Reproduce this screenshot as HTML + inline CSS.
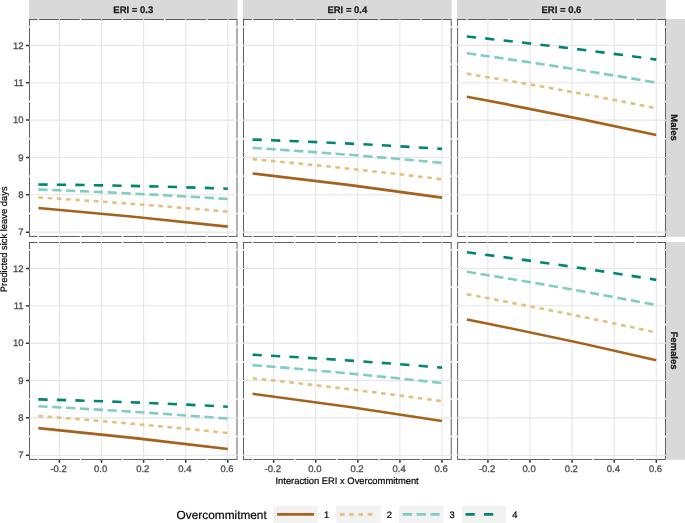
<!DOCTYPE html>
<html><head><meta charset="utf-8"><title>Predicted sick leave days</title>
<style>html,body{margin:0;padding:0;background:#fff}svg{display:block;will-change:transform}text{text-rendering:geometricPrecision;paint-order:stroke;stroke-linejoin:round;font-family:"Liberation Sans",sans-serif}</style></head><body>
<svg width="685" height="523" viewBox="0 0 685 523">
<rect width="685" height="523" fill="#fff"/>
<rect x="29.00" y="0" width="208.50" height="19.1" fill="#d9d9d9"/>
<text x="133.30" y="13.15" font-size="9.5" font-weight="bold" text-anchor="middle" fill="#1a1a1a" stroke="#1a1a1a" stroke-width="0.25">ERI = 0.3</text>
<rect x="243.05" y="0" width="208.65" height="19.1" fill="#d9d9d9"/>
<text x="347.35" y="13.15" font-size="9.5" font-weight="bold" text-anchor="middle" fill="#1a1a1a" stroke="#1a1a1a" stroke-width="0.25">ERI = 0.4</text>
<rect x="457.15" y="0" width="208.75" height="19.1" fill="#d9d9d9"/>
<text x="561.45" y="13.15" font-size="9.5" font-weight="bold" text-anchor="middle" fill="#1a1a1a" stroke="#1a1a1a" stroke-width="0.25">ERI = 0.6</text>
<rect x="665.8" y="19.0" width="19.4" height="217.80" fill="#d9d9d9"/>
<text transform="translate(671.35,127.55) rotate(90)" font-size="9.5" font-weight="bold" text-anchor="middle" fill="#1a1a1a" stroke="#1a1a1a" stroke-width="0.25">Males</text>
<rect x="665.8" y="242.0" width="19.4" height="217.80" fill="#d9d9d9"/>
<text transform="translate(671.35,350.55) rotate(90)" font-size="9.5" font-weight="bold" text-anchor="middle" fill="#1a1a1a" stroke="#1a1a1a" stroke-width="0.25">Females</text>
<rect x="29.50" y="19.5" width="207.50" height="216.90" fill="#fff" stroke="#444" stroke-width="0.85"/>
<path d="M38.35 18.8V237.1M80.45 18.8V237.1M122.55 18.8V237.1M164.65 18.8V237.1M206.75 18.8V237.1M28.80 213.48H237.70M28.80 176.12H237.70M28.80 138.78H237.70M28.80 101.43H237.70M28.80 64.08H237.70M28.80 26.72H237.70" stroke="#fff" stroke-width="1.4" fill="none"/>
<path d="M59.40 18.9V237.0M101.50 18.9V237.0M143.60 18.9V237.0M185.70 18.9V237.0M227.80 18.9V237.0M28.90 232.15H237.60M28.90 194.80H237.60M28.90 157.45H237.60M28.90 120.10H237.60M28.90 82.75H237.60M28.90 45.40H237.60" stroke="#e5e5e5" stroke-width="1.1" fill="none"/>
<path d="M38.35 207.96Q133.08 216.00 227.80 226.65" fill="none" stroke="#a6611a" stroke-width="2.6"/>
<path d="M38.35 197.45Q133.08 203.27 227.80 211.70" fill="none" stroke="#dfc27d" stroke-width="2.6" stroke-dasharray="4.624 4.624"/>
<path d="M38.35 189.50Q133.08 192.95 227.80 199.00" fill="none" stroke="#80cdc1" stroke-width="2.6" stroke-dasharray="9.248 4.624"/>
<path d="M38.35 184.50Q133.08 185.30 227.80 188.70" fill="none" stroke="#018571" stroke-width="2.6" stroke-dasharray="9.248 9.248"/>
<rect x="243.55" y="19.5" width="207.65" height="216.90" fill="#fff" stroke="#444" stroke-width="0.85"/>
<path d="M252.55 18.8V237.1M294.65 18.8V237.1M336.75 18.8V237.1M378.85 18.8V237.1M420.95 18.8V237.1M242.85 213.48H451.90M242.85 176.12H451.90M242.85 138.78H451.90M242.85 101.43H451.90M242.85 64.08H451.90M242.85 26.72H451.90" stroke="#fff" stroke-width="1.4" fill="none"/>
<path d="M273.60 18.9V237.0M315.70 18.9V237.0M357.80 18.9V237.0M399.90 18.9V237.0M442.00 18.9V237.0M242.95 232.15H451.80M242.95 194.80H451.80M242.95 157.45H451.80M242.95 120.10H451.80M242.95 82.75H451.80M242.95 45.40H451.80" stroke="#e5e5e5" stroke-width="1.1" fill="none"/>
<path d="M252.55 173.45Q347.27 184.02 442.00 197.60" fill="none" stroke="#a6611a" stroke-width="2.6"/>
<path d="M252.55 159.20Q347.27 167.75 442.00 179.30" fill="none" stroke="#dfc27d" stroke-width="2.6" stroke-dasharray="4.624 4.624"/>
<path d="M252.55 147.90Q347.27 153.90 442.00 162.90" fill="none" stroke="#80cdc1" stroke-width="2.6" stroke-dasharray="9.248 4.624"/>
<path d="M252.55 139.60Q347.27 142.75 442.00 148.90" fill="none" stroke="#018571" stroke-width="2.6" stroke-dasharray="9.248 9.248"/>
<rect x="457.65" y="19.5" width="207.75" height="216.90" fill="#fff" stroke="#444" stroke-width="0.85"/>
<path d="M466.85 18.8V237.1M508.95 18.8V237.1M551.05 18.8V237.1M593.15 18.8V237.1M635.25 18.8V237.1M456.95 213.48H666.10M456.95 176.12H666.10M456.95 138.78H666.10M456.95 101.43H666.10M456.95 64.08H666.10M456.95 26.72H666.10" stroke="#fff" stroke-width="1.4" fill="none"/>
<path d="M487.90 18.9V237.0M530.00 18.9V237.0M572.10 18.9V237.0M614.20 18.9V237.0M656.30 18.9V237.0M457.05 232.15H666.00M457.05 194.80H666.00M457.05 157.45H666.00M457.05 120.10H666.00M457.05 82.75H666.00M457.05 45.40H666.00" stroke="#e5e5e5" stroke-width="1.1" fill="none"/>
<path d="M466.85 96.80Q561.58 114.30 656.30 135.00" fill="none" stroke="#a6611a" stroke-width="2.6"/>
<path d="M466.85 73.65Q561.58 89.33 656.30 108.20" fill="none" stroke="#dfc27d" stroke-width="2.6" stroke-dasharray="4.624 4.624"/>
<path d="M466.85 53.30Q561.58 66.35 656.30 82.60" fill="none" stroke="#80cdc1" stroke-width="2.6" stroke-dasharray="9.248 4.624"/>
<path d="M466.85 36.45Q561.58 46.43 656.30 59.60" fill="none" stroke="#018571" stroke-width="2.6" stroke-dasharray="9.248 9.248"/>
<rect x="29.50" y="242.5" width="207.50" height="216.90" fill="#fff" stroke="#444" stroke-width="0.85"/>
<path d="M38.35 241.8V460.09999999999997M80.45 241.8V460.09999999999997M122.55 241.8V460.09999999999997M164.65 241.8V460.09999999999997M206.75 241.8V460.09999999999997M28.80 436.52H237.70M28.80 399.17H237.70M28.80 361.82H237.70M28.80 324.48H237.70M28.80 287.12H237.70M28.80 249.77H237.70" stroke="#fff" stroke-width="1.4" fill="none"/>
<path d="M59.40 241.9V460.0M101.50 241.9V460.0M143.60 241.9V460.0M185.70 241.9V460.0M227.80 241.9V460.0M28.90 455.20H237.60M28.90 417.85H237.60M28.90 380.50H237.60M28.90 343.15H237.60M28.90 305.80H237.60M28.90 268.45H237.60" stroke="#e5e5e5" stroke-width="1.1" fill="none"/>
<path d="M38.35 428.10Q133.08 437.25 227.80 449.00" fill="none" stroke="#a6611a" stroke-width="2.6"/>
<path d="M38.35 416.00Q133.08 423.20 227.80 433.00" fill="none" stroke="#dfc27d" stroke-width="2.6" stroke-dasharray="4.624 4.624"/>
<path d="M38.35 406.30Q133.08 411.15 227.80 418.60" fill="none" stroke="#80cdc1" stroke-width="2.6" stroke-dasharray="9.248 4.624"/>
<path d="M38.35 399.40Q133.08 401.75 227.80 406.70" fill="none" stroke="#018571" stroke-width="2.6" stroke-dasharray="9.248 9.248"/>
<rect x="243.55" y="242.5" width="207.65" height="216.90" fill="#fff" stroke="#444" stroke-width="0.85"/>
<path d="M252.55 241.8V460.09999999999997M294.65 241.8V460.09999999999997M336.75 241.8V460.09999999999997M378.85 241.8V460.09999999999997M420.95 241.8V460.09999999999997M242.85 436.52H451.90M242.85 399.17H451.90M242.85 361.82H451.90M242.85 324.48H451.90M242.85 287.12H451.90M242.85 249.77H451.90" stroke="#fff" stroke-width="1.4" fill="none"/>
<path d="M273.60 241.9V460.0M315.70 241.9V460.0M357.80 241.9V460.0M399.90 241.9V460.0M442.00 241.9V460.0M242.95 455.20H451.80M242.95 417.85H451.80M242.95 380.50H451.80M242.95 343.15H451.80M242.95 305.80H451.80M242.95 268.45H451.80" stroke="#e5e5e5" stroke-width="1.1" fill="none"/>
<path d="M252.55 393.80Q347.27 405.90 442.00 421.00" fill="none" stroke="#a6611a" stroke-width="2.6"/>
<path d="M252.55 378.30Q347.27 388.25 442.00 401.20" fill="none" stroke="#dfc27d" stroke-width="2.6" stroke-dasharray="4.624 4.624"/>
<path d="M252.55 365.10Q347.27 372.55 442.00 383.00" fill="none" stroke="#80cdc1" stroke-width="2.6" stroke-dasharray="9.248 4.624"/>
<path d="M252.55 354.70Q347.27 359.65 442.00 367.60" fill="none" stroke="#018571" stroke-width="2.6" stroke-dasharray="9.248 9.248"/>
<rect x="457.65" y="242.5" width="207.75" height="216.90" fill="#fff" stroke="#444" stroke-width="0.85"/>
<path d="M466.85 241.8V460.09999999999997M508.95 241.8V460.09999999999997M551.05 241.8V460.09999999999997M593.15 241.8V460.09999999999997M635.25 241.8V460.09999999999997M456.95 436.52H666.10M456.95 399.17H666.10M456.95 361.82H666.10M456.95 324.48H666.10M456.95 287.12H666.10M456.95 249.77H666.10" stroke="#fff" stroke-width="1.4" fill="none"/>
<path d="M487.90 241.9V460.0M530.00 241.9V460.0M572.10 241.9V460.0M614.20 241.9V460.0M656.30 241.9V460.0M457.05 455.20H666.00M457.05 417.85H666.00M457.05 380.50H666.00M457.05 343.15H666.00M457.05 305.80H666.00M457.05 268.45H666.00" stroke="#e5e5e5" stroke-width="1.1" fill="none"/>
<path d="M466.85 319.50Q561.58 338.25 656.30 360.20" fill="none" stroke="#a6611a" stroke-width="2.6"/>
<path d="M466.85 294.30Q561.58 311.80 656.30 332.50" fill="none" stroke="#dfc27d" stroke-width="2.6" stroke-dasharray="4.624 4.624"/>
<path d="M466.85 271.80Q561.58 286.85 656.30 305.10" fill="none" stroke="#80cdc1" stroke-width="2.6" stroke-dasharray="9.248 4.624"/>
<path d="M466.85 252.30Q561.58 264.48 656.30 279.85" fill="none" stroke="#018571" stroke-width="2.6" stroke-dasharray="9.248 9.248"/>
<text x="23.6" y="235.25" font-size="9.5" text-anchor="end" fill="#4d4d4d" stroke="#4d4d4d" stroke-width="0.3">7</text>
<text x="23.6" y="197.90" font-size="9.5" text-anchor="end" fill="#4d4d4d" stroke="#4d4d4d" stroke-width="0.3">8</text>
<text x="23.6" y="160.55" font-size="9.5" text-anchor="end" fill="#4d4d4d" stroke="#4d4d4d" stroke-width="0.3">9</text>
<text x="23.6" y="123.20" font-size="9.5" text-anchor="end" fill="#4d4d4d" stroke="#4d4d4d" stroke-width="0.3">10</text>
<text x="23.6" y="85.85" font-size="9.5" text-anchor="end" fill="#4d4d4d" stroke="#4d4d4d" stroke-width="0.3">11</text>
<text x="23.6" y="48.50" font-size="9.5" text-anchor="end" fill="#4d4d4d" stroke="#4d4d4d" stroke-width="0.3">12</text>
<path d="M25.9 232.15H29.5M25.9 194.80H29.5M25.9 157.45H29.5M25.9 120.10H29.5M25.9 82.75H29.5M25.9 45.40H29.5" stroke="#333" stroke-width="1.5" fill="none"/>
<text x="23.6" y="458.30" font-size="9.5" text-anchor="end" fill="#4d4d4d" stroke="#4d4d4d" stroke-width="0.3">7</text>
<text x="23.6" y="420.95" font-size="9.5" text-anchor="end" fill="#4d4d4d" stroke="#4d4d4d" stroke-width="0.3">8</text>
<text x="23.6" y="383.60" font-size="9.5" text-anchor="end" fill="#4d4d4d" stroke="#4d4d4d" stroke-width="0.3">9</text>
<text x="23.6" y="346.25" font-size="9.5" text-anchor="end" fill="#4d4d4d" stroke="#4d4d4d" stroke-width="0.3">10</text>
<text x="23.6" y="308.90" font-size="9.5" text-anchor="end" fill="#4d4d4d" stroke="#4d4d4d" stroke-width="0.3">11</text>
<text x="23.6" y="271.55" font-size="9.5" text-anchor="end" fill="#4d4d4d" stroke="#4d4d4d" stroke-width="0.3">12</text>
<path d="M25.9 455.20H29.5M25.9 417.85H29.5M25.9 380.50H29.5M25.9 343.15H29.5M25.9 305.80H29.5M25.9 268.45H29.5" stroke="#333" stroke-width="1.5" fill="none"/>
<text x="58.60" y="472.2" font-size="9.5" text-anchor="middle" fill="#4d4d4d" stroke="#4d4d4d" stroke-width="0.3">-0.2</text>
<text x="100.70" y="472.2" font-size="9.5" text-anchor="middle" fill="#4d4d4d" stroke="#4d4d4d" stroke-width="0.3">0.0</text>
<text x="142.80" y="472.2" font-size="9.5" text-anchor="middle" fill="#4d4d4d" stroke="#4d4d4d" stroke-width="0.3">0.2</text>
<text x="184.90" y="472.2" font-size="9.5" text-anchor="middle" fill="#4d4d4d" stroke="#4d4d4d" stroke-width="0.3">0.4</text>
<text x="227.00" y="472.2" font-size="9.5" text-anchor="middle" fill="#4d4d4d" stroke="#4d4d4d" stroke-width="0.3">0.6</text>
<path d="M59.40 459.4V462.7M101.50 459.4V462.7M143.60 459.4V462.7M185.70 459.4V462.7M227.80 459.4V462.7" stroke="#333" stroke-width="1.5" fill="none"/>
<text x="272.80" y="472.2" font-size="9.5" text-anchor="middle" fill="#4d4d4d" stroke="#4d4d4d" stroke-width="0.3">-0.2</text>
<text x="314.90" y="472.2" font-size="9.5" text-anchor="middle" fill="#4d4d4d" stroke="#4d4d4d" stroke-width="0.3">0.0</text>
<text x="357.00" y="472.2" font-size="9.5" text-anchor="middle" fill="#4d4d4d" stroke="#4d4d4d" stroke-width="0.3">0.2</text>
<text x="399.10" y="472.2" font-size="9.5" text-anchor="middle" fill="#4d4d4d" stroke="#4d4d4d" stroke-width="0.3">0.4</text>
<text x="441.20" y="472.2" font-size="9.5" text-anchor="middle" fill="#4d4d4d" stroke="#4d4d4d" stroke-width="0.3">0.6</text>
<path d="M273.60 459.4V462.7M315.70 459.4V462.7M357.80 459.4V462.7M399.90 459.4V462.7M442.00 459.4V462.7" stroke="#333" stroke-width="1.5" fill="none"/>
<text x="487.10" y="472.2" font-size="9.5" text-anchor="middle" fill="#4d4d4d" stroke="#4d4d4d" stroke-width="0.3">-0.2</text>
<text x="529.20" y="472.2" font-size="9.5" text-anchor="middle" fill="#4d4d4d" stroke="#4d4d4d" stroke-width="0.3">0.0</text>
<text x="571.30" y="472.2" font-size="9.5" text-anchor="middle" fill="#4d4d4d" stroke="#4d4d4d" stroke-width="0.3">0.2</text>
<text x="613.40" y="472.2" font-size="9.5" text-anchor="middle" fill="#4d4d4d" stroke="#4d4d4d" stroke-width="0.3">0.4</text>
<text x="655.50" y="472.2" font-size="9.5" text-anchor="middle" fill="#4d4d4d" stroke="#4d4d4d" stroke-width="0.3">0.6</text>
<path d="M487.90 459.4V462.7M530.00 459.4V462.7M572.10 459.4V462.7M614.20 459.4V462.7M656.30 459.4V462.7" stroke="#333" stroke-width="1.5" fill="none"/>
<text x="347.1" y="484.05" font-size="9.4" text-anchor="middle" fill="#000" stroke="#000" stroke-width="0.2">Interaction ERI x Overcommitment</text>
<text transform="translate(7.1,239.3) rotate(-90)" font-size="9.4" text-anchor="middle" fill="#000" stroke="#000" stroke-width="0.2">Predicted sick leave days</text>
<text x="176.6" y="518.5" font-size="11.85" fill="#000" stroke="#000" stroke-width="0.2">Overcommitment</text>
<rect x="273.4" y="505.8" width="44.4" height="17.6" fill="#f2f2f2"/>
<line x1="277.10" y1="514.4" x2="314.10" y2="514.4" stroke="#a6611a" stroke-width="2.6"/>
<text x="323.90" y="517.8" font-size="9.4" fill="#000" stroke="#000" stroke-width="0.2">1</text>
<rect x="336.2" y="505.8" width="44.4" height="17.6" fill="#f2f2f2"/>
<line x1="339.90" y1="514.4" x2="376.90" y2="514.4" stroke="#dfc27d" stroke-width="2.6" stroke-dasharray="4.624 4.624"/>
<text x="386.70" y="517.8" font-size="9.4" fill="#000" stroke="#000" stroke-width="0.2">2</text>
<rect x="399.0" y="505.8" width="44.4" height="17.6" fill="#f2f2f2"/>
<line x1="402.70" y1="514.4" x2="439.70" y2="514.4" stroke="#80cdc1" stroke-width="2.6" stroke-dasharray="9.248 4.624"/>
<text x="449.50" y="517.8" font-size="9.4" fill="#000" stroke="#000" stroke-width="0.2">3</text>
<rect x="461.8" y="505.8" width="44.4" height="17.6" fill="#f2f2f2"/>
<line x1="465.50" y1="514.4" x2="502.50" y2="514.4" stroke="#018571" stroke-width="2.6" stroke-dasharray="9.248 9.248"/>
<text x="512.30" y="517.8" font-size="9.4" fill="#000" stroke="#000" stroke-width="0.2">4</text>
</svg></body></html>
